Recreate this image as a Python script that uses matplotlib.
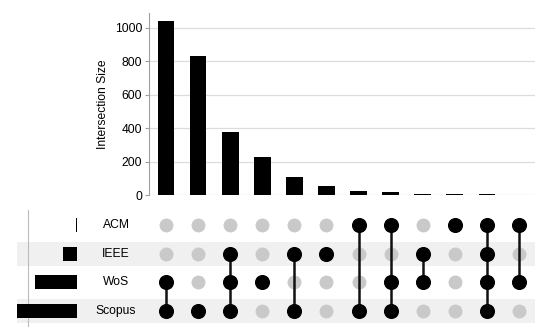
import matplotlib
matplotlib.use("Agg")
import matplotlib.pyplot as plt
import numpy as np

plt.rcParams['font.family'] = ['Liberation Sans', 'DejaVu Sans']

sets = ["ACM", "IEEE", "WoS", "Scopus"]
# membership per intersection column (ACM, IEEE, WoS, Scopus)
members = [
    [0, 0, 1, 1],
    [0, 0, 0, 1],
    [0, 1, 1, 1],
    [0, 0, 1, 0],
    [0, 1, 0, 1],
    [0, 1, 0, 0],
    [1, 0, 0, 1],
    [1, 0, 1, 1],
    [0, 1, 1, 0],
    [1, 0, 0, 0],
    [1, 1, 1, 1],
    [1, 0, 1, 0],
]
sizes = [1038, 828, 379, 229, 110, 56, 22, 18, 8, 4, 3, 1]
yticks = [0, 200, 400, 600, 800, 1000]

M = np.array(members)
S = np.array(sizes)
set_sizes = (M * S[:, None]).sum(axis=0)
ncol = len(sizes)
cols = np.arange(ncol)

W, H = 550, 332
fig = plt.figure(figsize=(W / 100, H / 100), dpi=100)

def px_axes(x0, y0, x1, y1):
    return fig.add_axes([x0 / W, 1 - y1 / H, (x1 - x0) / W, (y1 - y0) / H])

step = (519 - 166) / 11.0
gray_axis = "#a0a0a0"

# Bar chart
axb = px_axes(149, 13, 535, 195)
axb.bar(cols, S, width=0.52, color="black", zorder=3)
axb.set_xlim((149 - 166) / step, 11 + (535 - 519) / step)
axb.set_ylim(0, 1088)
axb.set_yticks(yticks)
axb.set_yticklabels([str(t) for t in yticks], fontsize=8.7)
axb.set_xticks([])
for s in ["top", "right", "bottom"]:
    axb.spines[s].set_visible(False)
axb.spines["left"].set_color(gray_axis)
axb.spines["left"].set_linewidth(0.8)
axb.tick_params(axis="y", color=gray_axis, length=3, width=0.8, pad=2)
axb.yaxis.grid(True, color="#dddddd", linewidth=0.9, zorder=0)
axb.set_ylabel("Intersection Size", fontsize=8.7, labelpad=4)
axb.patch.set_alpha(0)

# Matrix
row_px0 = 225
row_step = (311 - 225) / 3.0
mx0, mx1 = 17, 535
my0, my1 = 205, 332
axm = px_axes(mx0, my0, mx1, my1)
axm.set_xlim((mx0 - 166) / step, 11 + (mx1 - 519) / step)
axm.set_ylim((my1 - row_px0) / row_step, (my0 - row_px0) / row_step)
axm.axis("off")
rows = np.arange(len(sets))
for r in rows:
    if r % 2 == 1:
        axm.axhspan(r - 0.42, r + 0.42, xmin=0, xmax=1, color="#f0f0f0", zorder=0, lw=0)
for c in cols:
    for r in rows:
        if M[c, r]:
            axm.scatter(c, r, s=118, color="black", zorder=3, linewidths=0)
        else:
            axm.scatter(c, r, s=100, color="#c9c9c9", zorder=2, linewidths=0)
    on = np.where(M[c] == 1)[0]
    if len(on) > 1:
        axm.plot([c, c], [on.min(), on.max()], color="#111111", lw=1.8, zorder=2.5)
for r, name in zip(rows, sets):
    axm.text((116 - 166) / step, r, name, ha="center", va="center", fontsize=8.7)
axm.axvline((28 - 166) / step, ymin=0.05, ymax=0.96, color="#bbbbbb", lw=0.8, zorder=1)

# Set size bars
axs = px_axes(17, my0, 77, my1)
axs.barh(rows, set_sizes, height=0.48, color="black", zorder=3)
axs.set_xlim(set_sizes.max(), 0)
axs.set_ylim((my1 - row_px0) / row_step, (my0 - row_px0) / row_step)
axs.axis("off")
axs.patch.set_alpha(0)

fig.savefig("out.png", dpi=100)
